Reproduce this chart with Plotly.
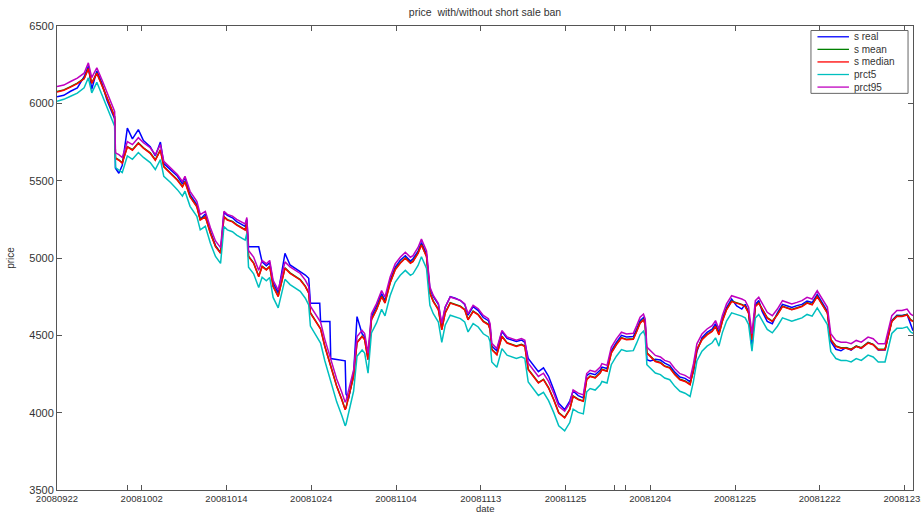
import plotly.graph_objects as go

# observation index (intraday ticks, Sep 22 - Dec 31 2008)
obs = [0, 8, 16, 24, 32, 37, 41, 47, 53, 59, 65, 68, 69, 73, 77, 83, 89, 96, 102, 110,
       116, 122, 126, 134, 142, 148, 151, 157, 165, 169, 175, 181, 187, 193, 197, 201, 207, 212, 216, 222,
       224, 226, 232, 238, 242, 247, 251, 255, 261, 265, 269, 275, 281, 287, 293, 297, 299, 304, 310, 311,
       316, 322, 323, 326, 330, 336, 340, 341, 344, 350, 354, 360, 363, 367, 371, 377, 383, 387, 393, 399,
       405, 411, 417, 420, 426, 430, 436, 440, 444, 450, 454, 458, 464, 470, 476, 481, 485, 491, 497, 503,
       509, 511, 513, 519, 525, 531, 537, 542, 548, 552, 556, 562, 568, 574, 580, 586, 592, 599, 605, 609,
       615, 621, 625, 629, 635, 641, 643, 649, 654, 660, 666, 672, 680, 684, 688, 692, 694, 696, 700, 706,
       712, 717, 723, 729, 735, 741, 747, 751, 755, 761, 767, 773, 777, 781, 785, 790, 796, 802, 808, 812,
       816, 820, 824, 828, 832, 838, 844, 850, 856, 862, 867, 873, 879, 885, 891, 897, 903, 909, 913, 919,
       925, 931, 937, 943, 949, 957, 963, 969, 977, 981, 985, 991, 997, 1003, 1007, 1010]

s_real = [6043, 6052, 6078, 6100, 6172, 6240, 6090, 6210, 6130, 6020, 5940, 5900, 5580, 5548, 5600, 5840, 5770, 5830, 5760, 5720,
          5660, 5750, 5610, 5570, 5530, 5480, 5520, 5410, 5345, 5250, 5285, 5170, 5080, 5035, 5295, 5275, 5260, 5235, 5225, 5205,
          5250, 5072, 5072, 5072, 4975, 4950, 4970, 4840, 4775, 4900, 5030, 4955, 4934, 4910, 4890, 4869, 4708, 4708, 4708, 4589,
          4589, 4589, 4350, 4348, 4345, 4340, 4335, 4120, 4090, 4260, 4621, 4510, 4490, 4360, 4620, 4690, 4770, 4725, 4855, 4940,
          4985, 5015, 4980, 4995, 5045, 5100, 5025, 4800, 4750, 4700, 4560, 4680, 4750, 4740, 4725, 4700, 4630, 4685, 4660, 4615,
          4595, 4560, 4430, 4400, 4525, 4480, 4470, 4460, 4470, 4455, 4350, 4310, 4265, 4290, 4235, 4150, 4060, 4020, 4075, 4140,
          4110, 4095, 4240, 4255, 4245, 4275, 4295, 4285, 4400, 4455, 4500, 4490, 4492, 4540, 4595, 4615, 4585, 4342, 4335, 4345,
          4340, 4320, 4305, 4262, 4230, 4222, 4200, 4265, 4395, 4485, 4520, 4540, 4575, 4520, 4605, 4680, 4735, 4690, 4670, 4700,
          4650, 4419, 4700, 4725, 4655, 4590, 4575, 4645, 4700, 4690, 4680, 4692, 4700, 4722, 4712, 4765, 4710, 4655, 4460, 4410,
          4400, 4420, 4405, 4430, 4415, 4455, 4440, 4405, 4405, 4495, 4595, 4630, 4628, 4635, 4580, 4530]

s_mean = [6076, 6087, 6108, 6130, 6161, 6227, 6131, 6197, 6118, 6035, 5957, 5914, 5648, 5635, 5616, 5720, 5700, 5745, 5712, 5680,
          5635, 5699, 5592, 5551, 5506, 5463, 5495, 5398, 5334, 5248, 5269, 5162, 5076, 5033, 5268, 5248, 5237, 5216, 5205, 5184,
          5227, 5011, 4969, 4882, 4947, 4926, 4947, 4818, 4753, 4840, 4937, 4904, 4882, 4861, 4818, 4775, 4646, 4603, 4549, 4543,
          4431, 4324, 4303, 4237, 4173, 4087, 4022, 4033, 4108, 4237, 4455, 4495, 4474, 4345, 4603, 4668, 4753, 4711, 4840, 4926,
          4969, 5001, 4969, 4979, 5033, 5087, 5011, 4775, 4721, 4668, 4539, 4646, 4711, 4700, 4689, 4668, 4603, 4657, 4635, 4592,
          4571, 4539, 4410, 4377, 4495, 4453, 4442, 4431, 4442, 4431, 4281, 4237, 4195, 4216, 4162, 4087, 4001, 3969, 4022, 4108,
          4087, 4076, 4216, 4237, 4227, 4259, 4281, 4270, 4388, 4442, 4485, 4474, 4478, 4528, 4582, 4603, 4571, 4388, 4366, 4334,
          4324, 4302, 4291, 4248, 4216, 4205, 4184, 4281, 4410, 4474, 4506, 4528, 4560, 4506, 4592, 4668, 4721, 4711, 4700, 4689,
          4646, 4474, 4689, 4711, 4668, 4614, 4592, 4635, 4689, 4678, 4668, 4678, 4689, 4711, 4700, 4753, 4700, 4646, 4474, 4431,
          4420, 4420, 4410, 4431, 4420, 4453, 4442, 4410, 4410, 4495, 4592, 4625, 4625, 4635, 4603, 4592]

s_median = [6073, 6084, 6105, 6127, 6159, 6224, 6129, 6194, 6116, 6032, 5955, 5912, 5645, 5632, 5613, 5718, 5697, 5742, 5710, 5677,
            5632, 5697, 5589, 5548, 5503, 5460, 5492, 5395, 5331, 5245, 5266, 5159, 5073, 5030, 5266, 5245, 5234, 5213, 5202, 5181,
            5224, 5008, 4966, 4879, 4944, 4923, 4944, 4815, 4750, 4837, 4934, 4901, 4879, 4858, 4815, 4772, 4643, 4600, 4546, 4540,
            4428, 4321, 4300, 4234, 4170, 4084, 4019, 4030, 4105, 4234, 4452, 4492, 4471, 4342, 4600, 4665, 4750, 4708, 4837, 4923,
            4966, 4998, 4966, 4976, 5030, 5084, 5008, 4772, 4718, 4665, 4536, 4643, 4708, 4697, 4686, 4665, 4600, 4654, 4632, 4589,
            4568, 4536, 4407, 4374, 4492, 4450, 4439, 4428, 4439, 4428, 4278, 4234, 4192, 4213, 4159, 4084, 3998, 3966, 4019, 4105,
            4084, 4073, 4213, 4234, 4224, 4256, 4278, 4267, 4385, 4439, 4482, 4471, 4475, 4525, 4579, 4600, 4568, 4385, 4363, 4331,
            4321, 4299, 4288, 4245, 4213, 4202, 4181, 4278, 4407, 4471, 4503, 4525, 4557, 4503, 4589, 4665, 4718, 4708, 4697, 4686,
            4643, 4471, 4686, 4708, 4665, 4611, 4589, 4632, 4686, 4675, 4665, 4675, 4686, 4708, 4697, 4750, 4697, 4643, 4471, 4428,
            4417, 4417, 4407, 4428, 4417, 4450, 4439, 4407, 4407, 4492, 4589, 4622, 4622, 4632, 4600, 4589]

prct5 = [6013, 6026, 6046, 6066, 6100, 6165, 6068, 6136, 6056, 5972, 5896, 5852, 5585, 5570, 5552, 5660, 5638, 5682, 5650, 5617,
         5572, 5636, 5528, 5488, 5442, 5400, 5432, 5334, 5270, 5182, 5205, 5096, 5010, 4965, 5204, 5182, 5170, 5148, 5136, 5115,
         5158, 4940, 4898, 4810, 4876, 4853, 4874, 4745, 4678, 4766, 4862, 4828, 4806, 4784, 4740, 4696, 4560, 4514, 4457, 4450,
         4336, 4226, 4204, 4136, 4070, 3982, 3915, 3925, 4000, 4140, 4365, 4405, 4385, 4255, 4515, 4580, 4668, 4626, 4756, 4843,
         4888, 4920, 4888, 4898, 4952, 5008, 4932, 4694, 4640, 4586, 4455, 4565, 4630, 4620, 4608, 4587, 4522, 4576, 4554, 4510,
         4490, 4458, 4328, 4294, 4414, 4372, 4360, 4350, 4361, 4350, 4198, 4154, 4111, 4132, 4078, 4002, 3915, 3882, 3936, 4023,
         4002, 3992, 4135, 4156, 4146, 4180, 4202, 4192, 4310, 4365, 4408, 4397, 4401, 4451, 4505, 4527, 4495, 4310, 4288, 4256,
         4246, 4224, 4213, 4170, 4138, 4126, 4105, 4204, 4334, 4398, 4430, 4452, 4484, 4430, 4516, 4592, 4645, 4635, 4624, 4613,
         4570, 4398, 4613, 4635, 4592, 4538, 4516, 4559, 4613, 4602, 4592, 4602, 4613, 4635, 4624, 4677, 4624, 4570, 4395, 4350,
         4338, 4338, 4328, 4350, 4338, 4372, 4360, 4328, 4328, 4415, 4512, 4545, 4545, 4555, 4523, 4512]

prct95 = [6108, 6118, 6141, 6163, 6195, 6262, 6166, 6230, 6152, 6068, 5991, 5948, 5680, 5668, 5650, 5752, 5733, 5778, 5745, 5713,
          5668, 5733, 5625, 5584, 5540, 5495, 5528, 5431, 5367, 5281, 5302, 5196, 5110, 5067, 5302, 5282, 5271, 5250, 5240, 5220,
          5262, 5048, 5006, 4920, 4984, 4963, 4984, 4856, 4792, 4878, 4975, 4942, 4920, 4900, 4857, 4815, 4688, 4646, 4592, 4586,
          4474, 4368, 4347, 4282, 4218, 4132, 4068, 4078, 4150, 4276, 4492, 4532, 4511, 4383, 4640, 4705, 4790, 4748, 4876, 4962,
          5005, 5037, 5005, 5015, 5068, 5122, 5046, 4812, 4758, 4705, 4578, 4683, 4748, 4737, 4726, 4705, 4640, 4694, 4672, 4629,
          4608, 4576, 4448, 4415, 4532, 4490, 4479, 4468, 4479, 4468, 4320, 4276, 4234, 4255, 4202, 4127, 4041, 4010, 4062, 4147,
          4126, 4115, 4253, 4274, 4264, 4295, 4317, 4306, 4423, 4477, 4520, 4509, 4513, 4563, 4617, 4638, 4606, 4424, 4402, 4370,
          4360, 4338, 4327, 4284, 4252, 4241, 4220, 4317, 4445, 4509, 4541, 4563, 4595, 4541, 4627, 4703, 4756, 4746, 4735, 4724,
          4681, 4510, 4724, 4746, 4703, 4649, 4627, 4670, 4724, 4713, 4703, 4713, 4724, 4746, 4735, 4788, 4735, 4681, 4510, 4467,
          4456, 4456, 4446, 4467, 4456, 4489, 4478, 4446, 4446, 4530, 4627, 4660, 4660, 4670, 4638, 4627]

# axis ticks: labelled trading days plus a few unlabelled tick marks
tick_pos = [0, 83, 100, 200, 300, 400, 500, 600, 658, 671, 700, 800, 900, 1000]
tick_text = ["20080922", "", "20081002", "20081014", "20081024", "20081104", "20081113",
             "20081125", "", "", "20081204", "20081225", "20081222", "20081231"]
price_ticks = [3500, 4000, 4500, 5000, 5500, 6000, 6500]

series = [
    ("s real", s_real, "rgb(0,0,255)"),
    ("s mean", s_mean, "rgb(0,128,0)"),
    ("s median", s_median, "rgb(255,0,0)"),
    ("prct5", prct5, "rgb(0,191,191)"),
    ("prct95", prct95, "rgb(191,0,191)"),
]

fig = go.Figure()
for name, ys, col in series:
    fig.add_trace(go.Scatter(x=obs, y=ys, mode="lines", name=name,
                             line=dict(color=col, width=1.5), showlegend=False))

font_family = "Liberation Sans, Arial, sans-serif"
text_col = "#333333"
axis_col = "#555555"

# compact boxed legend in the upper-right corner (paper coordinates)
leg_x0, leg_x1 = 0.8808, 0.9942
leg_top, leg_bot = 0.9903, 0.8548
row_h = (leg_top - leg_bot) / 5
shapes = [dict(type="rect", xref="paper", yref="paper", x0=leg_x0, x1=leg_x1,
               y0=leg_bot, y1=leg_top, line=dict(color="#666666", width=1),
               fillcolor="white", layer="above")]
annotations = []
for i, (name, _, col) in enumerate(series):
    yc = leg_top - row_h * (i + 0.5)
    shapes.append(dict(type="line", xref="paper", yref="paper", x0=0.8884, x1=0.9252,
                       y0=yc, y1=yc, line=dict(color=col, width=1.3), layer="above"))
    annotations.append(dict(text=name, xref="paper", yref="paper", x=0.9287, y=yc,
                            xanchor="left", yanchor="middle", showarrow=False,
                            font=dict(size=10, color=text_col)))

# x-axis title placed just below the date labels
annotations.append(dict(text="date", xref="paper", yref="paper", x=0.5, y=-0.0395,
                        xanchor="center", yanchor="middle", showarrow=False,
                        font=dict(size=9.5, color=text_col)))

fig.update_layout(
    width=921, height=513,
    margin=dict(l=57, r=8, t=26, b=23),
    paper_bgcolor="white", plot_bgcolor="white",
    font=dict(family=font_family, size=10, color=text_col),
    title=dict(text="price  with/without short sale ban", x=0.5266, xanchor="center",
               y=1 - 12 / 513, yanchor="middle", font=dict(size=10.5, color=text_col)),
    showlegend=False,
    shapes=shapes,
    annotations=annotations,
    xaxis=dict(range=[0, 1010], tickmode="array", tickvals=tick_pos, ticktext=tick_text,
               ticks="inside", ticklen=5, tickcolor=axis_col, showline=True, linecolor=axis_col,
               linewidth=1, mirror="ticks", showgrid=False, zeroline=False, automargin=False,
               ticklabeloverflow="allow",
               tickfont=dict(size=9.5, color=text_col)),
    yaxis=dict(range=[3500, 6500], tickmode="array", tickvals=price_ticks,
               ticks="inside", ticklen=5, tickcolor=axis_col, showline=True, linecolor=axis_col,
               linewidth=1, mirror="ticks", showgrid=False, zeroline=False, automargin=False,
               tickfont=dict(size=11, color=text_col),
               title=dict(text="price", standoff=12, font=dict(size=10))),
)

fig.write_html("out.html")
